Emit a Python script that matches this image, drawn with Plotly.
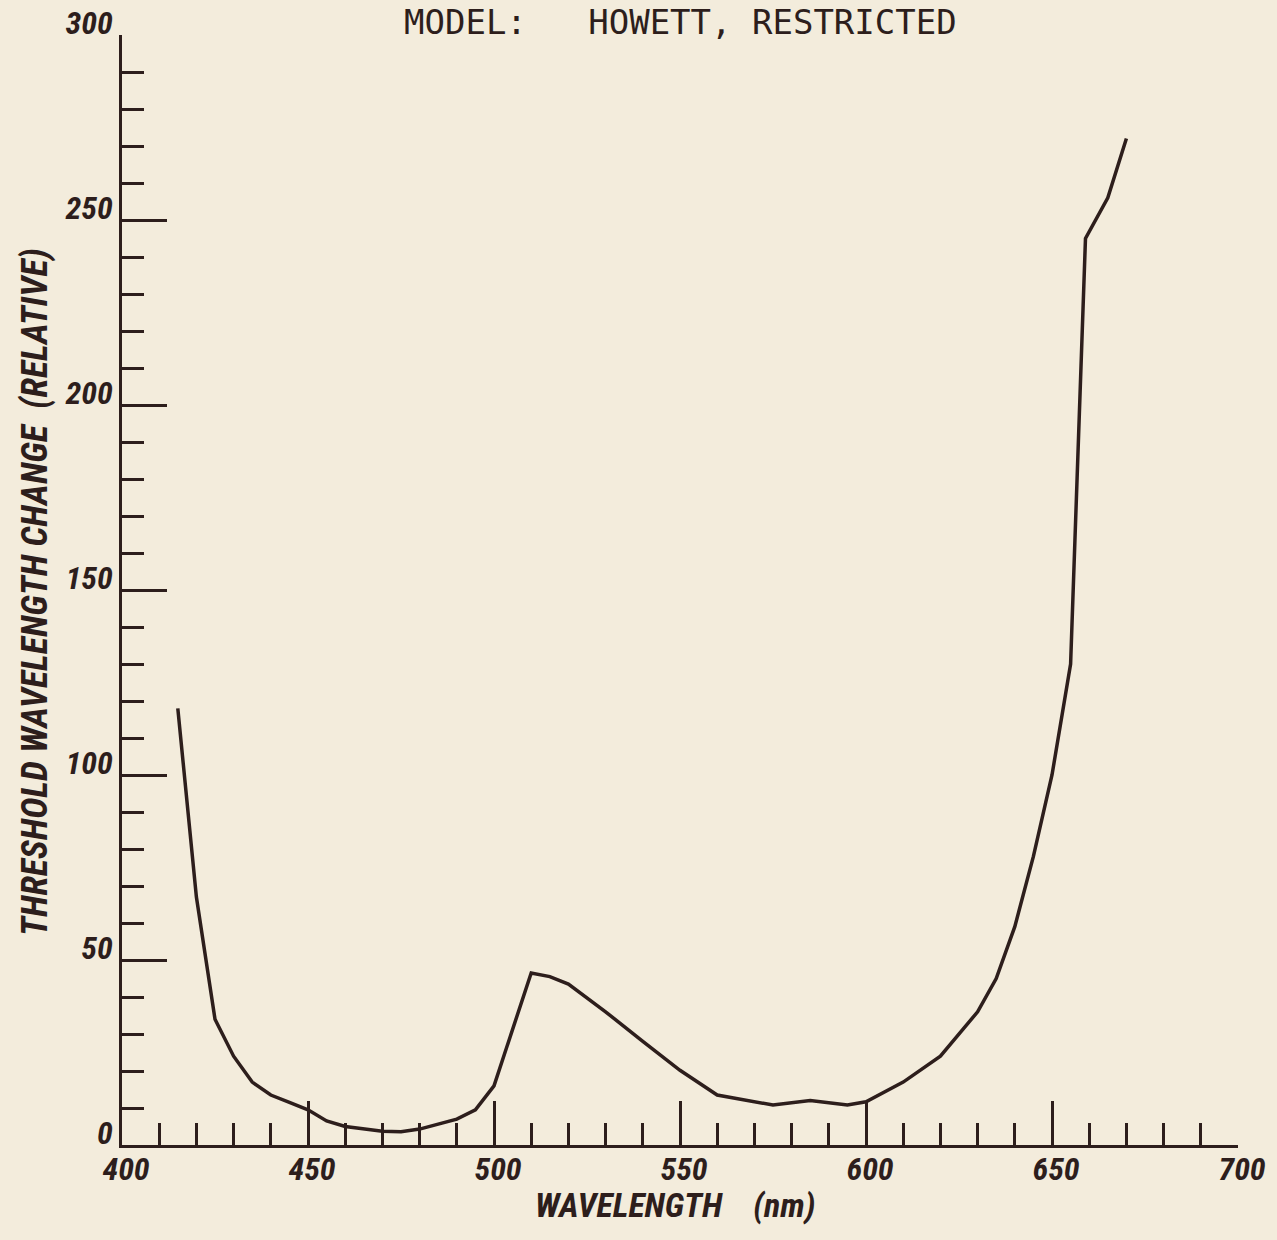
import plotly.graph_objects as go

# Threshold wavelength-discrimination curve, Howett model (restricted)
wavelength_nm = [415, 420, 425, 430, 435, 440, 445, 450, 455, 460, 470, 475,
                 480, 490, 495, 500, 510, 515, 520, 530, 540, 550, 560, 575,
                 585, 595, 600, 610, 620, 630, 635, 640, 645, 650, 655, 659,
                 665, 670]
threshold_change = [118, 67, 34, 24, 17, 13.5, 11.5, 9.5, 6.5, 5, 3.7, 3.6,
                    4.3, 7, 9.5, 16, 46.5, 45.5, 43.5, 36, 28, 20.2, 13.5, 10.8,
                    12, 10.8, 11.7, 17, 24, 36, 45, 59, 78, 100, 130, 245,
                    256, 272]

x_ticks = [400, 450, 500, 550, 600, 650, 700]
y_ticks = [0, 50, 100, 150, 200, 250, 300]

title_text = "MODEL:\u00a0\u00a0\u00a0HOWETT,\u00a0RESTRICTED"
x_title = "WAVELENGTH\u00a0\u00a0\u00a0\u00a0(nm)"
y_title = "THRESHOLD\u00a0WAVELENGTH\u00a0CHANGE\u00a0\u00a0(RELATIVE)"

ink = "#2d1e1c"
paper = "#f3ecdc"
label_family = "Liberation Sans Narrow, Roboto Condensed, DejaVu Sans Condensed, Roboto, sans-serif"
label_font = dict(family=label_family, size=32, color=ink, style="italic", weight="bold")

fig = go.Figure()
fig.add_trace(go.Scatter(
    x=wavelength_nm, y=threshold_change, mode="lines",
    line=dict(color=ink, width=3.5), hoverinfo="skip", showlegend=False,
))

fig.update_layout(
    width=1277, height=1240,
    margin=dict(l=122, r=39, t=35, b=95),
    paper_bgcolor=paper, plot_bgcolor=paper,
    showlegend=False,
)

fig.update_xaxes(
    range=[400, 700], tickvals=x_ticks, ticktext=[str(v) for v in x_ticks],
    automargin=False, showgrid=False, zeroline=False,
    showline=True, linecolor=ink, linewidth=3,
    ticks="inside", ticklen=44, tickwidth=3, tickcolor=ink,
    minor=dict(dtick=10, tick0=400, ticks="inside", ticklen=22, tickwidth=3,
               tickcolor=ink, showgrid=False),
    tickfont=label_font, ticklabelstandoff=-6, ticklabelshift=4,
)
fig.update_yaxes(
    range=[0, 300], tickvals=y_ticks, ticktext=[str(v) for v in y_ticks],
    automargin=False, showgrid=False, zeroline=False,
    showline=True, linecolor=ink, linewidth=3,
    ticks="inside", ticklen=45, tickwidth=3, tickcolor=ink,
    minor=dict(dtick=10, tick0=0, ticks="inside", ticklen=22, tickwidth=3,
               tickcolor=ink, showgrid=False),
    tickfont=label_font, ticklabelstandoff=0, ticklabelshift=-12,
)

# Plot-area mapping: paper y=0 at 1145 px, y=1 at 35 px; x=0 at 122 px, x=1 at 1238 px
def px_x(p):
    return (p - 122) / 1116.0

def px_y(p):
    return (1145 - p) / 1110.0

fig.add_annotation(
    text=title_text, xref="paper", yref="paper",
    x=px_x(680), y=px_y(0), xanchor="center", yanchor="top",
    showarrow=False,
    font=dict(family="DejaVu Sans Mono, Liberation Mono, monospace", size=34, color=ink),
)
fig.add_annotation(
    text=x_title, xref="paper", yref="paper",
    x=px_x(675), y=px_y(1205), xanchor="center", yanchor="middle",
    showarrow=False, font=dict(label_font, size=34),
)
fig.add_annotation(
    text=y_title, xref="paper", yref="paper",
    x=px_x(35), y=px_y(592), xanchor="center", yanchor="middle",
    textangle=-90, showarrow=False, font=dict(label_font, size=36),
)

fig.write_html("out.html")
